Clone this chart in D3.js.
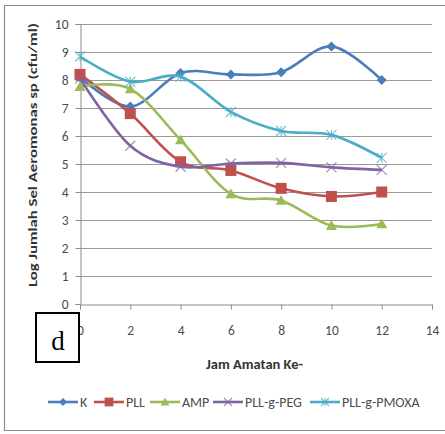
<!DOCTYPE html>
<html>
<head>
<meta charset="utf-8">
<script src="https://cdn.jsdelivr.net/npm/d3@7"></script>
<style>
  body { margin: 0; background: #fff; }
  svg { display: block; }
</style>
</head>
<body>
<svg id="chart" width="445" height="434"></svg>
<script>
// data
const hours = [0, 2, 4, 6, 8, 10, 12];
const seriesNames = ["K", "PLL", "AMP", "PLL-g-PEG", "PLL-g-PMOXA"];
const valK = [8.1, 7.05, 8.25, 8.2, 8.28, 9.2, 8.0];
const valPLL = [8.2, 6.8, 5.08, 4.77, 4.13, 3.84, 4.0];
const valAMP = [7.76, 7.68, 5.86, 3.93, 3.7, 2.8, 2.86];
const valPEG = [8.05, 5.65, 4.9, 5.02, 5.04, 4.88, 4.79];
const valPMOXA = [8.84, 7.94, 8.12, 6.86, 6.18, 6.04, 5.22];
const xTicks = [0, 2, 4, 6, 8, 10, 12, 14];
const yTicks = [0, 1, 2, 3, 4, 5, 6, 7, 8, 9, 10];

const colors = ["#4A7EBB", "#C0504D", "#9BBB59", "#8064A2", "#4BACC6"];
const markers = ["diamond", "square", "triangle", "x", "star"];
const allVals = [valK, valPLL, valAMP, valPEG, valPMOXA];

const series = seriesNames.map((name, i) => ({
  name: name,
  color: colors[i],
  marker: markers[i],
  points: hours.map((h, j) => ({ x: h, y: allVals[i][j] }))
}));

const svg = d3.select("#chart");
const font = "Calibri, 'Open Sans', 'Noto Sans', sans-serif";

// outer frame
svg.append("path")
  .attr("d", "M445,5.5 H4.5 V430.5 H445")
  .attr("fill", "none").attr("stroke", "#8c8c8c").attr("stroke-width", 1.2);

const x = d3.scaleLinear().domain([0, 14]).range([80, 432]);
const y = d3.scaleLinear().domain([0, 10]).range([304, 24]);

// grid
svg.append("g")
  .selectAll("line")
  .data(yTicks.filter(d => d > 0))
  .join("line")
  .attr("x1", x(0)).attr("x2", x(14))
  .attr("y1", d => y(d) + 0.5).attr("y2", d => y(d) + 0.5)
  .attr("stroke", "#9a9a9a").attr("stroke-width", 1);

// axes
const yAxis = svg.append("g")
  .attr("transform", `translate(${x(0) + 0.5},0)`)
  .call(d3.axisLeft(y).tickValues(yTicks).tickSize(5).tickPadding(7));
const xAxis = svg.append("g")
  .attr("transform", `translate(0,${y(0) + 0.5})`)
  .call(d3.axisBottom(x).tickValues(xTicks).tickSize(5).tickPadding(16));

[yAxis, xAxis].forEach(a => {
  a.select(".domain").attr("stroke", "#8c8c8c");
  a.selectAll(".tick line").attr("stroke", "#8c8c8c");
  a.selectAll("text")
    .attr("font-family", font).attr("font-size", 13.5).attr("fill", "#4d4d4d");
});

// lines
const line = d3.line()
  .x(d => x(d.x)).y(d => y(d.y))
  .curve(d3.curveCatmullRom.alpha(0));

function drawMarker(g, type, color, s) {
  if (type === "diamond") {
    g.append("path").attr("d", `M0,${-s}L${s},0L0,${s}L${-s},0Z`).attr("fill", color);
  } else if (type === "square") {
    g.append("rect").attr("x", -s).attr("y", -s).attr("width", 2 * s).attr("height", 2 * s).attr("fill", color);
  } else if (type === "triangle") {
    g.append("path").attr("d", `M0,${-s}L${s},${s * 0.8}L${-s},${s * 0.8}Z`).attr("fill", color);
  } else if (type === "x") {
    g.append("path").attr("d", `M${-s},${-s}L${s},${s}M${-s},${s}L${s},${-s}`)
      .attr("stroke", color).attr("stroke-width", 1.3).attr("opacity", 0.7);
  } else if (type === "star") {
    g.append("path").attr("d", `M${-s},${-s}L${s},${s}M${-s},${s}L${s},${-s}M0,${-s}V${s}`)
      .attr("stroke", color).attr("stroke-width", 1.3).attr("opacity", 0.7);
  }
}

const markerSize = { diamond: 5, square: 5.5, triangle: 5.5, x: 5, star: 5 };

series.forEach(s => {
  const g = svg.append("g");
  g.append("path")
    .datum(s.points)
    .attr("d", line)
    .attr("fill", "none")
    .attr("stroke", s.color)
    .attr("stroke-width", 2.6);
  g.selectAll("g.m")
    .data(s.points)
    .join("g")
    .attr("class", "m")
    .attr("transform", d => `translate(${x(d.x)},${y(d.y)})`)
    .each(function () { drawMarker(d3.select(this), s.marker, s.color, markerSize[s.marker]); });
});

// axis titles
svg.append("text")
  .attr("transform", `translate(37,155) rotate(-90)`)
  .attr("text-anchor", "middle")
  .attr("font-family", font).attr("font-weight", "bold").attr("font-size", 12.5)
  .attr("fill", "#333")
  .attr("textLength", 264).attr("lengthAdjust", "spacingAndGlyphs")
  .text("Log Jumlah Sel Aeromonas sp (cfu/ml)");

svg.append("text")
  .attr("x", 254.5).attr("y", 369)
  .attr("text-anchor", "middle")
  .attr("font-family", font).attr("font-weight", "bold").attr("font-size", 13.5)
  .attr("fill", "#333")
  .attr("textLength", 97).attr("lengthAdjust", "spacingAndGlyphs")
  .text("Jam Amatan Ke-");

// panel label box
svg.append("rect")
  .attr("x", 36).attr("y", 313).attr("width", 43).attr("height", 49)
  .attr("fill", "#fff").attr("stroke", "#000").attr("stroke-width", 2);
svg.append("text")
  .attr("x", 58).attr("y", 350)
  .attr("text-anchor", "middle")
  .attr("font-family", "'Liberation Serif', 'DejaVu Serif', serif").attr("font-size", 27)
  .attr("fill", "#000")
  .text("d");

// legend
const legendX = [48, 94, 150, 213, 310];
const legend = svg.append("g").attr("transform", "translate(0,402)");
series.forEach((s, i) => {
  const lg = legend.append("g").attr("transform", `translate(${legendX[i]},0)`);
  lg.append("line").attr("x1", 0).attr("x2", 30).attr("y1", 0).attr("y2", 0)
    .attr("stroke", s.color).attr("stroke-width", 2.6);
  const mg = lg.append("g").attr("transform", "translate(15,0)");
  drawMarker(mg, s.marker, s.color, markerSize[s.marker] * 0.8);
  lg.append("text").attr("x", 32).attr("y", 5)
    .attr("font-family", font).attr("font-size", 14).attr("fill", "#4d4d4d")
    .text(s.name);
});
</script>
</body>
</html>
